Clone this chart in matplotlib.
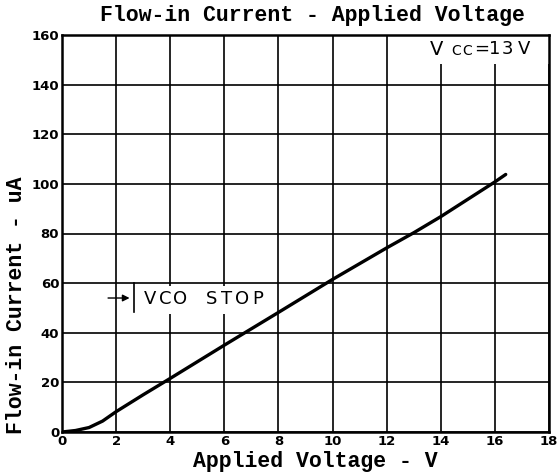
import matplotlib
matplotlib.use('Agg')
import matplotlib.pyplot as plt
from matplotlib.patches import Rectangle

# data
voltage = [0, 0.5, 1.0, 1.5, 2.0, 3.0, 4.0, 5.0, 6.0, 8.0, 10.0, 12.0, 13.0, 14.0, 15.0, 16.0, 16.4]
current = [0, 0.6, 1.8, 4.4, 8.2, 15.0, 21.6, 28.3, 35.0, 48.2, 61.5, 74.2, 80.3, 86.8, 93.8, 100.8, 103.8]

x_ticks = [0, 2, 4, 6, 8, 10, 12, 14, 16, 18]
y_ticks = [0, 20, 40, 60, 80, 100, 120, 140, 160]

title = "Flow-in Current - Applied Voltage"
x_label = "Applied Voltage - V"
y_label = "Flow-in Current - uA"
stop_label = "VCO STOP"

mono = 'Liberation Mono'

W, H = 559, 475
fig = plt.figure(figsize=(W / 100, H / 100), dpi=100)
ax = fig.add_axes([62 / W, 1 - 432 / H, (549 - 62) / W, (432 - 35) / H])

ax.set_xlim(0, 18)
ax.set_ylim(0, 160)
ax.set_xticks(x_ticks)
ax.set_yticks(y_ticks)
ax.set_xticklabels([str(t) for t in x_ticks], fontfamily='DejaVu Sans', fontweight='bold', fontsize=9.5)
ax.set_yticklabels([str(t) for t in y_ticks], fontfamily='DejaVu Sans', fontweight='bold', fontsize=9.5)
ax.tick_params(length=0, pad=2)
ax.grid(True, color='black', linewidth=1.2)
ax.set_axisbelow(True)
for s in ax.spines.values():
    s.set_linewidth(1.8)

ax.plot(voltage, current, color='black', linewidth=2.4, solid_capstyle='round', zorder=3)

# white patches where the labels sit over the grid
ax.add_patch(Rectangle((13.45, 148.5), 4.55, 11.5, facecolor='white', edgecolor='none', zorder=2))
ax.add_patch(Rectangle((2.72, 47.5), 5.0, 11.5, facecolor='white', edgecolor='none', zorder=2))

# Vcc label, letter by letter (wide spacing in the original)
vcc_chars = ["V", "C", "C", "=", "1", "3", "V"]
vcc_x = [13.86, 14.56, 14.97, 15.52, 16.0, 16.48, 17.07]
vcc_size = [14, 10, 10, 13, 13, 13, 13]
vcc_y = [154.3, 153.6, 153.6, 154.3, 154.3, 154.3, 154.3]
for ch, x, sz, y in zip(vcc_chars, vcc_x, vcc_size, vcc_y):
    ax.text(x, y, ch, fontsize=sz, fontfamily='DejaVu Sans', ha='center', va='center', zorder=4)

# VCO STOP marker
ax.annotate("", xy=(2.6, 54), xytext=(1.6, 54),
            arrowprops=dict(arrowstyle='-|>', color='black', lw=1.0, mutation_scale=10), zorder=4)
ax.plot([2.65, 2.65], [48.5, 60], color='black', linewidth=1.2, zorder=4)
for i, ch in enumerate(stop_label):
    ax.text(3.24 + i * 0.571, 53.5, ch, fontsize=13, fontfamily='DejaVu Sans',
            ha='center', va='center', zorder=4)

fig.text(312 / W, 1 - 16 / H, title, fontsize=15.5, fontfamily=mono, fontweight='bold',
         ha='center', va='center')
fig.text(315 / W, 1 - 462 / H, x_label, fontsize=15.5, fontfamily=mono, fontweight='bold',
         ha='center', va='center')
fig.text(17 / W, 1 - 305 / H, y_label, fontsize=15.5, fontfamily=mono, fontweight='bold',
         ha='center', va='center', rotation=90)

fig.savefig('out.png', dpi=100)
